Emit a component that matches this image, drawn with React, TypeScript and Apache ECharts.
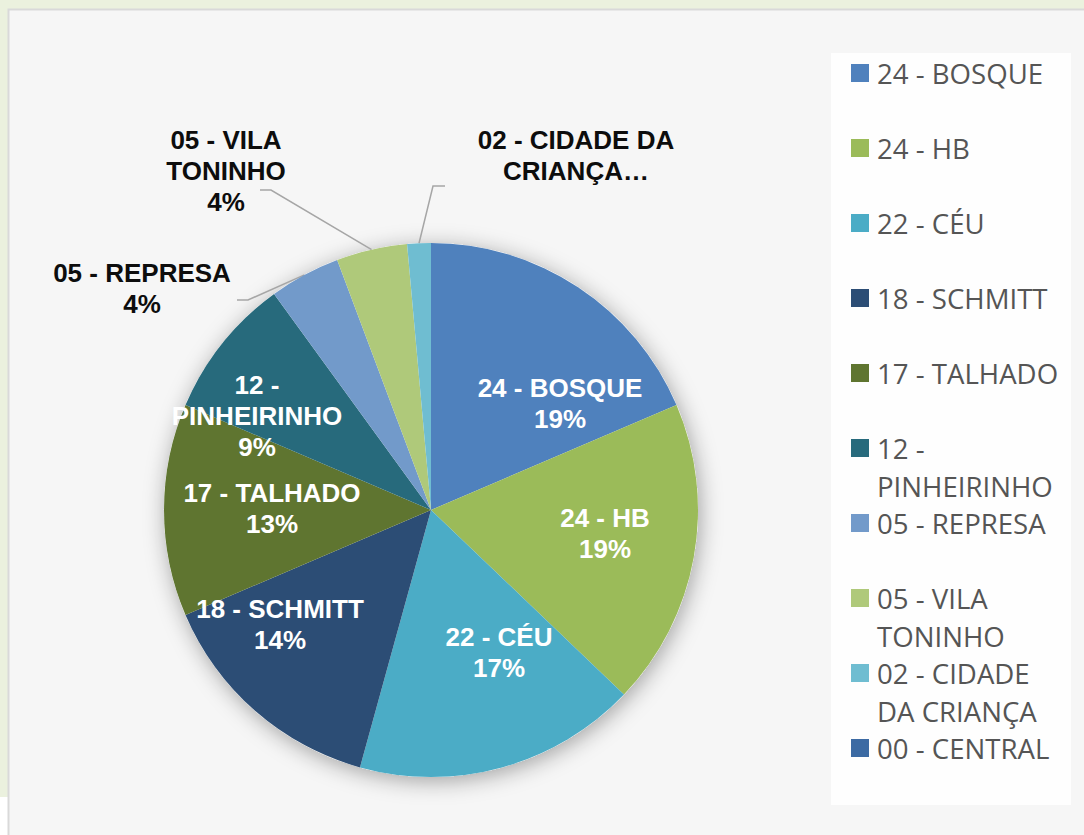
import React, { useEffect, useRef } from "react";
import * as echarts from "echarts";

// ---- data ----
const categories = [
  "24 - BOSQUE",
  "24 - HB",
  "22 - CÉU",
  "18 - SCHMITT",
  "17 - TALHADO",
  "12 - PINHEIRINHO",
  "05 - REPRESA",
  "05 - VILA TONINHO",
  "02 - CIDADE DA CRIANÇA",
  "00 - CENTRAL",
];
const counts = [13, 13, 12, 10, 9, 6, 3, 3, 1, 0];
const sliceLabelText = [
  "24 - BOSQUE",
  "24 - HB",
  "22 - CÉU",
  "18 - SCHMITT",
  "17 - TALHADO",
  "12 -\nPINHEIRINHO",
  "05 - REPRESA",
  "05 - VILA\nTONINHO",
  "02 - CIDADE DA\nCRIANÇA…",
  "",
];
const legendText = [
  "24 - BOSQUE",
  "24 - HB",
  "22 - CÉU",
  "18 - SCHMITT",
  "17 - TALHADO",
  "12 -\nPINHEIRINHO",
  "05 - REPRESA",
  "05 - VILA\nTONINHO",
  "02 - CIDADE\nDA CRIANÇA",
  "00 - CENTRAL",
];

// ---- styles / layout ----
const colors = [
  "#4f81bd",
  "#9bbb59",
  "#4bacc6",
  "#2c4d75",
  "#5f7530",
  "#276a7c",
  "#729aca",
  "#afc97a",
  "#6fbdd1",
  "#3c6aa3",
];
const CX = 431;
const CY = 510;
const R = 267;
const outsideLabel = [false, false, false, false, false, false, true, true, true, false];
const labelSpots: (number[] | null)[] = [
  [560, 403.5],
  [605, 533.5],
  [499, 652],
  [280, 624],
  [272, 508],
  [257, 416],
  [142, 288],
  [226, 171],
  [576, 155.5],
  null,
];
const leaderBends: Record<number, number[][]> = {
  6: [[248, 300], [237, 300]],
  7: [[271, 190], [260, 190]],
  8: [[433, 186], [445, 186]],
};

export default function App() {
  const ref = useRef<HTMLDivElement>(null);

  useEffect(() => {
    if (!ref.current) return;
    const chart = echarts.init(ref.current, undefined, { renderer: "svg" });

    const total = counts.reduce((a, b) => a + b, 0);
    let acc = 0;
    const midAngles = counts.map((v) => {
      const m = ((acc + v / 2) / total) * Math.PI * 2;
      acc += v;
      return m;
    });

    // every legend entry becomes a 3-line block whose middle line sits on the swatch
    const legendBlock = (t: string) => {
      const lines = t.split("\n");
      return lines.length > 1 ? ` \n${lines.join("\n")}` : ` \n${t}\n `;
    };

    const option: any = {
      animation: false,
      backgroundColor: "#ffffff",
      graphic: [
        {
          type: "rect",
          z: 0,
          silent: true,
          shape: { x: 0, y: 0, width: 1084, height: 797 },
          style: { fill: "#ebf1de" },
        },
        {
          type: "rect",
          z: 0,
          silent: true,
          shape: { x: 8.5, y: 9.5, width: 1090, height: 840 },
          style: { fill: "#f6f6f6", stroke: "#d9d9d9", lineWidth: 2 },
        },
        {
          type: "rect",
          z: 0,
          silent: true,
          shape: { x: 831, y: 53, width: 240, height: 752 },
          style: { fill: "#fefefe" },
        },
      ],
      legend: {
        orient: "vertical",
        left: 851,
        top: 16.75,
        padding: 0,
        itemGap: -37.5,
        itemWidth: 18,
        itemHeight: 18,
        icon: "rect",
        selectedMode: false,
        z: 4,
        textStyle: {
          fontFamily: "Open Sans",
          fontSize: 27.6,
          color: "#555555",
          lineHeight: 37.5,
          padding: [0, 0, 0, 3],
        },
        formatter: (name: string) => legendBlock(legendText[categories.indexOf(name)]),
        data: categories,
      },
      series: [
        {
          type: "pie",
          name: "shadow",
          silent: true,
          z: 1,
          center: [CX, CY],
          radius: R,
          startAngle: 90,
          label: { show: false },
          labelLine: { show: false },
          legendHoverLink: false,
          itemStyle: {
            color: "#ffffff",
            shadowBlur: 22,
            shadowColor: "rgba(0,0,0,0.35)",
            shadowOffsetX: 2,
            shadowOffsetY: 4,
          },
          data: [{ value: 1, name: "__bg" }],
        },
        {
          type: "pie",
          name: "regiões",
          z: 2,
          silent: true,
          center: [CX, CY],
          radius: R,
          startAngle: 90,
          clockwise: true,
          avoidLabelOverlap: false,
          itemStyle: { borderWidth: 0 },
          emphasis: { disabled: true },
          label: {
            fontFamily: "Liberation Sans",
            fontWeight: "bold",
            fontSize: 26,
            lineHeight: 31,
            align: "center",
            formatter: (p: any) => {
              const t = sliceLabelText[p.dataIndex];
              return t.endsWith("…") ? t : `${t}\n${Math.round(p.percent)}%`;
            },
          },
          labelLine: {
            lineStyle: { color: "#a6a6a6", width: 1.5 },
          },
          labelLayout: (params: any) => {
            const i = params.dataIndex;
            const spot = labelSpots[i];
            if (!spot) return {};
            const res: any = {
              x: spot[0],
              y: spot[1],
              align: "center",
              verticalAlign: "middle",
            };
            if (leaderBends[i]) {
              const m = midAngles[i];
              const p0 = [CX + R * Math.sin(m), CY - R * Math.cos(m)];
              res.labelLinePoints = [p0, ...leaderBends[i]];
            }
            return res;
          },
          data: categories.map((name, i) => ({
            name,
            value: counts[i],
            itemStyle: { color: colors[i] },
            label: {
              show: counts[i] > 0,
              position: outsideLabel[i] ? "outside" : "inside",
              color: outsideLabel[i] ? "#0d0d0d" : "#ffffff",
            },
            labelLine: { show: outsideLabel[i] },
          })),
        },
      ],
    };

    chart.setOption(option);
    return () => chart.dispose();
  }, []);

  return (
    <div
      ref={ref}
      style={{ position: "fixed", left: 0, top: 0, width: 1084, height: 835 }}
    />
  );
}
